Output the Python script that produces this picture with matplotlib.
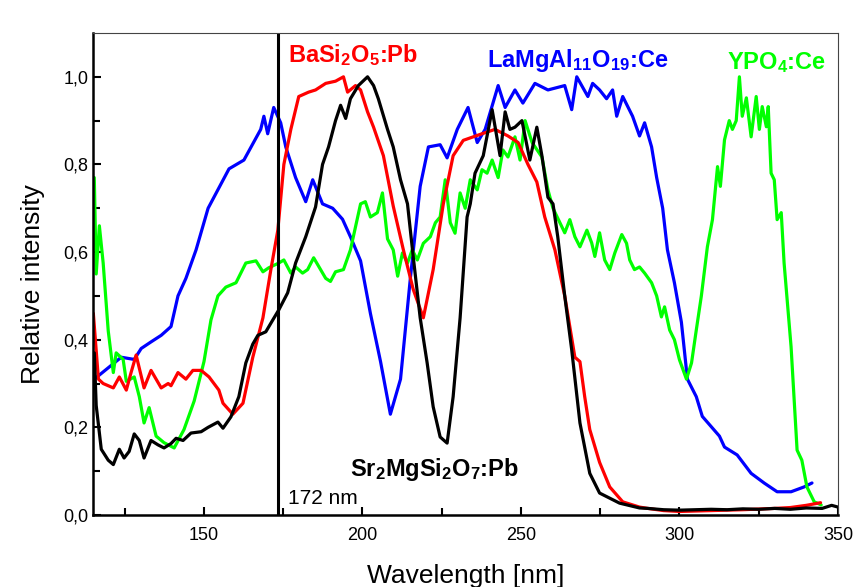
import matplotlib
matplotlib.use('Agg')
import matplotlib.pyplot as plt
from matplotlib.ticker import MultipleLocator, FixedLocator

plt.rcParams['font.family'] = 'Liberation Sans'
plt.rcParams['mathtext.default'] = 'regular'

# LaMgAl11O19:Ce (blue)
lam_wl = [115.4, 123.9, 128.0, 130.2, 133.3, 136.5, 139.6, 141.8, 144.3, 147.5, 151.3, 157.9,
          162.6, 167.9, 168.9, 170.1, 172.0, 174.2, 175.8, 178.9, 182.1, 184.3, 187.4, 190.6,
          193.7, 196.2, 199.4, 202.5, 205.7, 208.8, 212.0, 215.1, 218.2, 220.8, 224.5, 226.7,
          229.9, 233.3, 236.2, 238.7, 242.8, 245.0, 248.1, 250.6, 254.4, 258.5, 263.8, 266.0,
          267.6, 271.1, 272.6, 274.8, 277.0, 278.9, 280.2, 282.1, 285.2, 287.4, 289.0, 291.2,
          292.8, 294.7, 296.2, 298.4, 300.6, 302.5, 305.3, 307.2, 312.6, 314.2, 318.2, 322.6,
          326.7, 330.8, 335.2, 339.3, 341.8]
lam_int = [0.31, 0.36, 0.355, 0.38, 0.395, 0.41, 0.43, 0.50, 0.54, 0.605, 0.70, 0.79,
           0.81, 0.88, 0.91, 0.87, 0.93, 0.895, 0.84, 0.77, 0.715, 0.765, 0.71, 0.70,
           0.675, 0.635, 0.58, 0.46, 0.35, 0.23, 0.31, 0.54, 0.75, 0.84, 0.845, 0.815,
           0.88, 0.93, 0.85, 0.88, 0.98, 0.93, 0.97, 0.94, 0.985, 0.97, 0.98, 0.925,
           1.0, 0.955, 0.985, 0.97, 0.95, 0.97, 0.91, 0.955, 0.91, 0.865, 0.895, 0.84,
           0.77, 0.70, 0.605, 0.53, 0.44, 0.31, 0.27, 0.225, 0.18, 0.155, 0.137, 0.095,
           0.073, 0.053, 0.053, 0.064, 0.073]

# YPO4:Ce (green)
ypo_wl = [115.4, 116.0, 117.0, 118.2, 119.8, 121.4, 122.3, 124.5, 125.5, 128.0, 129.6, 131.1,
          132.7, 134.9, 137.4, 140.6, 143.7, 146.9, 150.0, 152.2, 154.4, 156.9, 160.1, 163.2,
          166.4, 168.6, 170.4, 173.6, 175.2, 177.4, 178.9, 181.1, 182.7, 184.6, 188.4, 189.9,
          191.5, 194.0, 196.2, 199.4, 200.9, 202.5, 204.7, 206.3, 207.9, 209.7, 211.1, 212.6,
          214.2, 215.7, 217.3, 219.2, 221.4, 223.0, 224.5, 226.1, 227.7, 229.2, 230.8, 232.4,
          234.0, 236.2, 237.7, 239.3, 240.9, 242.8, 244.3, 245.9, 248.1, 249.7, 251.3, 253.5,
          256.6, 258.5, 260.1, 262.3, 263.8, 265.4, 267.0, 268.6, 270.8, 272.3, 273.3, 274.8,
          276.4, 278.0, 279.6, 281.8, 283.3, 284.3, 285.8, 287.4, 289.0, 291.2, 292.8, 294.3,
          295.3, 296.9, 298.4, 300.0, 302.2, 303.8, 305.3, 306.9, 308.8, 310.4, 312.0, 312.9,
          314.2, 315.7, 316.7, 317.9, 318.9, 319.8, 321.1, 322.6, 324.2, 325.2, 326.1, 327.4,
          328.0, 328.9, 329.9, 330.8, 332.1, 333.0, 335.2, 337.1, 338.6, 340.2, 342.5, 344.7]
ypo_int = [0.77, 0.55, 0.66, 0.575, 0.42, 0.325, 0.37, 0.355, 0.305, 0.315, 0.27, 0.21,
           0.245, 0.18, 0.165, 0.153, 0.195, 0.26, 0.35, 0.445, 0.50, 0.52, 0.53, 0.575,
           0.58, 0.555, 0.564, 0.575, 0.582, 0.552, 0.566, 0.552, 0.56, 0.587, 0.54, 0.533,
           0.555, 0.56, 0.605, 0.71, 0.715, 0.68, 0.69, 0.735, 0.63, 0.605, 0.545, 0.598,
           0.575, 0.605, 0.582, 0.62, 0.635, 0.667, 0.68, 0.765, 0.667, 0.643, 0.735, 0.70,
           0.765, 0.742, 0.788, 0.78, 0.81, 0.77, 0.833, 0.817, 0.863, 0.81, 0.90, 0.85,
           0.817, 0.742, 0.70, 0.667, 0.644, 0.674, 0.635, 0.612, 0.65, 0.621, 0.59, 0.644,
           0.582, 0.56, 0.598, 0.64, 0.62, 0.582, 0.56, 0.566, 0.552, 0.53, 0.50, 0.452,
           0.475, 0.422, 0.40, 0.354, 0.31, 0.347, 0.422, 0.50, 0.612, 0.674, 0.795, 0.75,
           0.856, 0.90, 0.88, 0.90, 1.0, 0.91, 0.952, 0.863, 0.955, 0.88, 0.932, 0.886,
           0.932, 0.78, 0.765, 0.674, 0.69, 0.575, 0.384, 0.148, 0.125, 0.064, 0.03, 0.023]

# BaSi2O5:Pb (red)
bas_wl = [115.1, 116.7, 118.2, 121.4, 123.3, 125.5, 127.0, 128.6, 131.1, 133.3, 136.5, 138.7,
          139.6, 141.8, 144.3, 146.5, 149.1, 151.6, 154.7, 156.0, 159.1, 162.3, 165.4, 168.6,
          171.1, 173.3, 175.2, 177.4, 179.9, 183.0, 185.2, 188.4, 191.5, 194.0, 195.3, 197.8,
          199.4, 201.6, 203.5, 206.6, 209.7, 212.9, 216.0, 219.2, 222.3, 225.5, 228.6, 231.8,
          237.7, 241.8, 245.9, 249.1, 252.2, 255.0, 257.5, 260.7, 263.8, 267.0, 268.6, 270.1,
          271.7, 274.8, 278.0, 282.1, 287.4, 290.0, 295.0, 300.0, 310.0, 320.0, 330.0, 335.0,
          340.0, 344.5]
bas_int = [0.46, 0.31, 0.30, 0.29, 0.315, 0.285, 0.325, 0.365, 0.29, 0.33, 0.29, 0.30,
           0.295, 0.325, 0.31, 0.33, 0.33, 0.315, 0.285, 0.255, 0.23, 0.255, 0.36, 0.45,
           0.56, 0.65, 0.80, 0.88, 0.955, 0.965, 0.97, 0.985, 0.99, 1.0, 0.965, 0.98,
           0.97, 0.92, 0.885, 0.82, 0.705, 0.605, 0.515, 0.45, 0.56, 0.71, 0.82, 0.855,
           0.87, 0.88, 0.865, 0.85, 0.80, 0.76, 0.68, 0.605, 0.50, 0.36, 0.35, 0.27,
           0.195, 0.12, 0.064, 0.03, 0.018, 0.015, 0.010, 0.008, 0.010, 0.012, 0.015, 0.017,
           0.022, 0.028]

# Sr2MgSi2O7:Pb (black)
srm_wl = [115.4, 116.0, 117.6, 119.8, 121.4, 123.3, 124.8, 126.4, 128.0, 129.6, 131.1, 133.3,
          135.5, 137.4, 139.6, 141.2, 143.4, 145.9, 149.1, 151.3, 154.4, 156.0, 158.5, 161.0,
          163.2, 165.4, 167.0, 169.5, 171.7, 173.6, 176.4, 178.9, 182.1, 185.2, 187.4, 189.3,
          191.5, 193.1, 194.7, 196.2, 198.7, 201.6, 203.5, 205.0, 207.9, 209.7, 212.0, 214.2,
          216.0, 218.2, 220.4, 222.3, 224.5, 226.7, 228.6, 230.8, 233.0, 234.0, 235.5, 238.1,
          240.9, 243.4, 245.0, 246.5, 248.1, 250.3, 252.8, 255.0, 256.6, 258.5, 260.1, 261.6,
          263.8, 266.0, 268.6, 271.7, 274.8, 281.1, 287.4, 290.0, 295.0, 300.0, 305.0, 310.0,
          315.0, 320.0, 325.0, 330.0, 335.0, 340.0, 345.0, 348.0, 350.0]
srm_int = [0.37, 0.25, 0.15, 0.125, 0.115, 0.15, 0.13, 0.145, 0.185, 0.17, 0.13, 0.17,
           0.16, 0.153, 0.163, 0.175, 0.17, 0.187, 0.19, 0.20, 0.212, 0.198, 0.224, 0.27,
           0.347, 0.39, 0.41, 0.418, 0.445, 0.468, 0.507, 0.575, 0.635, 0.703, 0.80, 0.84,
           0.90, 0.935, 0.905, 0.95, 0.98, 1.0, 0.98, 0.95, 0.88, 0.84, 0.765, 0.71,
           0.59, 0.45, 0.347, 0.247, 0.178, 0.164, 0.27, 0.45, 0.68, 0.71, 0.78, 0.82,
           0.925, 0.82, 0.92, 0.88, 0.885, 0.90, 0.81, 0.885, 0.82, 0.725, 0.71, 0.635,
           0.50, 0.377, 0.21, 0.095, 0.05, 0.027, 0.016, 0.015, 0.012, 0.011, 0.012, 0.013,
           0.012, 0.014, 0.013, 0.015, 0.013, 0.016, 0.015, 0.022, 0.018]

y_ticks = [0.0, 0.2, 0.4, 0.6, 0.8, 1.0]
y_tick_labels = ['0,0', '0,2', '0,4', '0,6', '0,8', '1,0']
x_ticks = [150, 200, 250, 300, 350]

fig = plt.figure(figsize=(8.55, 5.87), dpi=100)
ax = fig.add_axes([0.1088, 0.1227, 0.8713, 0.8211])

lw = 2.3
style = dict(lw=lw, solid_joinstyle='round', solid_capstyle='round')
ax.plot(lam_wl, lam_int, color='#0000ff', **style)
ax.plot(ypo_wl, ypo_int, color='#00ff00', **style)
ax.plot(bas_wl, bas_int, color='#ff0000', **style)
ax.plot(srm_wl, srm_int, color='black', **style)
ax.axvline(173.3, color='black', lw=2.2)  # 172 nm excitation line

ax.set_xlim(115, 350)
ax.set_ylim(0, 1.1)
ax.set_xticks(x_ticks)
ax.set_yticks(y_ticks)
ax.set_yticklabels(y_tick_labels)
ax.xaxis.set_minor_locator(MultipleLocator(25))
ax.yaxis.set_minor_locator(FixedLocator([0.1, 0.3, 0.5, 0.7, 0.9]))
ax.tick_params(which='both', direction='in', top=False, right=False, width=1.5, labelsize=13)
ax.tick_params(which='major', length=6)
ax.tick_params(which='minor', length=5)
ax.tick_params(axis='x', pad=9)

for s in ['left', 'bottom']:
    ax.spines[s].set_linewidth(1.8)
for s in ['top', 'right']:
    ax.spines[s].set_linewidth(0.8)
    ax.spines[s].set_color('#444444')

ax.set_xlabel('Wavelength [nm]', fontsize=19, labelpad=14)
ax.set_ylabel('Relative intensity', fontsize=19)
ax.yaxis.set_label_coords(-0.064, 0.479)

bold = dict(fontsize=17, fontweight='bold', va='baseline')
ax.text(176.4, 1.034, 'BaSi$_2$O$_5$:Pb', color='#ff0000', **bold)
ax.text(239.3, 1.023, 'LaMgAl$_{11}$O$_{19}$:Ce', color='#0000ff', **bold)
ax.text(315.1, 1.018, 'YPO$_4$:Ce', color='#00ff00', **bold)
ax.text(196.2, 0.089, 'Sr$_2$MgSi$_2$O$_7$:Pb', color='black', **bold)
ax.text(176.4, 0.025, '172 nm', fontsize=15, va='baseline')

fig.savefig('out.png', dpi=100)
plt.close(fig)
